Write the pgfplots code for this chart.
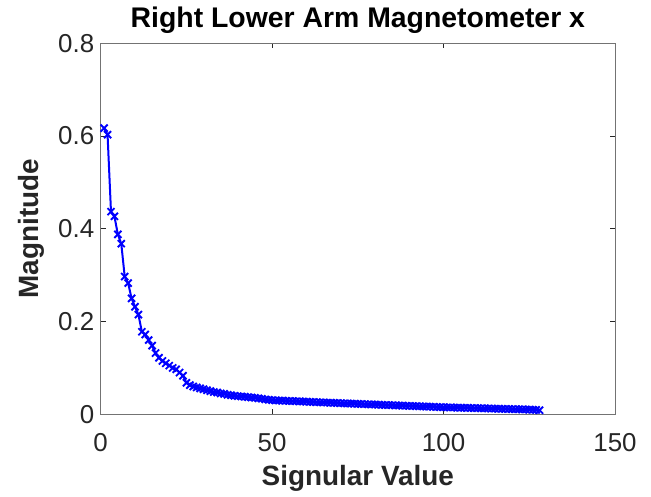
\documentclass[border=0pt]{standalone}
\usepackage{pgfplots}
\pgfplotsset{compat=1.18}
\usepackage{fontspec}
\setmainfont{Liberation Sans}
\definecolor{mlaxis}{rgb}{0.15,0.15,0.15}
\definecolor{mlbox}{rgb}{0.45,0.45,0.45}

\begin{document}
\begin{tikzpicture}[x=1bp,y=1bp]
\path[use as bounding box] (0,0) rectangle (651,497);
\begin{axis}[
  at={(100.7bp,82.7bp)}, anchor=south west,
  scale only axis,
  width=514.3bp, height=371bp,
  xmin=0, xmax=150, ymin=0, ymax=0.8,
  xtick={0,50,100,150},
  ytick={0,0.2,0.4,0.6,0.8},
  tick align=inside,
  major tick length=5bp,
  axis line style={mlbox, line width=0.9bp},
  every tick/.style={mlaxis, line width=0.6bp},
  tick label style={font=\fontsize{26}{30}\selectfont, text=mlaxis},
  /pgf/number format/assume math mode=true,
  yticklabel style={/pgf/number format/fixed, /pgf/number format/precision=1},
  xticklabel style={yshift=-16bp},
  yticklabel style={xshift=-3bp},
  label style={font=\bfseries\fontsize{28}{32}\selectfont, text=mlaxis},
  xlabel={Signular Value},
  ylabel={Magnitude},
  xlabel style={at={(axis description cs:0.5,-0.172)}, anchor=center},
  ylabel style={at={(axis description cs:-0.135,0.5)}, anchor=center},
  title={Right Lower Arm Magnetometer x},
  title style={font=\bfseries\fontsize{28.5}{32}\selectfont, at={(axis description cs:0.5,1.045)}, anchor=center},
]
\addplot[color=blue, line width=2bp, mark=x, mark size=5bp, mark options={line width=1.9bp}] coordinates {
(1,0.617)(2,0.603)(3,0.437)(4,0.427)(5,0.388)(6,0.368)(7,0.297)(8,0.283)(9,0.250)(10,0.232)
(11,0.215)(12,0.178)(13,0.172)(14,0.160)(15,0.148)(16,0.132)(17,0.122)(18,0.115)(19,0.110)(20,0.105)
(21,0.100)(22,0.097)(23,0.090)(24,0.083)(25,0.068)(26,0.063)(27,0.060)(28,0.058)(29,0.056)(30,0.054)
(31,0.052)(32,0.050)(33,0.048)(34,0.047)(35,0.045)(36,0.044)(37,0.042)(38,0.041)(39,0.040)(40,0.039)
(41,0.0385)(42,0.0378)(43,0.0370)(44,0.0362)(45,0.0355)(46,0.0345)(47,0.0335)(48,0.0322)(49,0.0312)(50,0.0305)
(51,0.0300)(52,0.0297)(53,0.0294)(54,0.0291)(55,0.0288)(56,0.0285)(57,0.0282)(58,0.0279)(59,0.0276)(60,0.0272)
(61,0.0268)(62,0.0265)(63,0.0262)(64,0.0259)(65,0.0255)(66,0.0252)(67,0.0249)(68,0.0246)(69,0.0243)(70,0.0240)
(71,0.0237)(72,0.0234)(73,0.0231)(74,0.0228)(75,0.0225)(76,0.0222)(77,0.0219)(78,0.0216)(79,0.0213)(80,0.0210)
(81,0.0207)(82,0.0204)(83,0.0201)(84,0.0198)(85,0.0196)(86,0.0193)(87,0.0190)(88,0.0187)(89,0.0184)(90,0.0181)
(91,0.0178)(92,0.0176)(93,0.0173)(94,0.0170)(95,0.0167)(96,0.0164)(97,0.0161)(98,0.0158)(99,0.0155)(100,0.0152)
(101,0.0150)(102,0.0148)(103,0.0146)(104,0.0144)(105,0.0142)(106,0.0140)(107,0.0138)(108,0.0136)(109,0.0134)(110,0.0132)
(111,0.0130)(112,0.0128)(113,0.0126)(114,0.0124)(115,0.0122)(116,0.0120)(117,0.0118)(118,0.0116)(119,0.0114)(120,0.0112)
(121,0.0110)(122,0.0108)(123,0.0106)(124,0.0104)(125,0.0101)(126,0.0098)(127,0.0094)(128,0.0088)
};
\end{axis}
\end{tikzpicture}
\end{document}
